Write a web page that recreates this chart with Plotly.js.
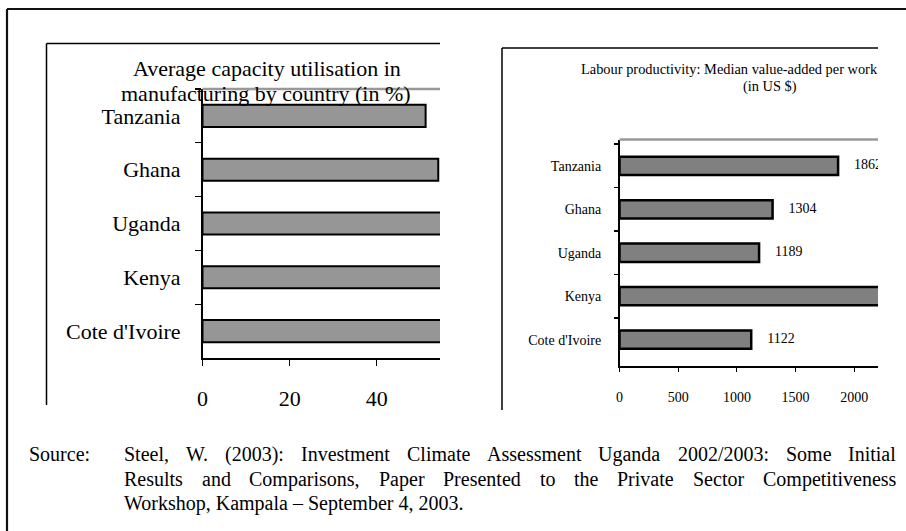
<!DOCTYPE html>
<html><head><meta charset="utf-8">
<script src="https://cdn.plot.ly/plotly-3.0.1.min.js"></script>
<style>html,body{margin:0;padding:0;background:#fff;} #chart{width:906px;height:531px;}</style>
</head><body><div id="chart"></div>
<script>
// ---- data ----
const countries = ["Tanzania", "Ghana", "Uganda", "Kenya", "Cote d'Ivoire"];
const capacityUtilisation = [51.2, 54.1, 58, 60, 65];      // %, last three run past the clipped edge
const labourProductivity = [1862, 1304, 1189, 2300, 1122]; // US $
const productivityLabels = ["1862", "1304", "1189", "", "1122"]; // Kenya's label lies outside the visible area
const capacityTicks = [0, 20, 40];
const productivityTicks = [0, 500, 1000, 1500, 2000];
const titleLeft = ["Average capacity utilisation in", "manufacturing by country (in %)"];
const titleRight = ["Labour productivity: Median value-added per work", "(in US $)"];
const sourceLabel = "Source:";
const sourceLines = [
  "Steel, W. (2003): Investment Climate Assessment Uganda 2002/2003: Some Initial",
  "Results and Comparisons, Paper Presented to the Private Sector Competitiveness",
  "Workshop, Kampala \u2013 September 4, 2003."
];

// ---- helpers ----
const W = 906, H = 531;
const SERIF = 'Liberation Serif, Times New Roman, serif';
const px = x => x / W;
const py = y => 1 - y / H;

const traces = [
  {type: 'bar', orientation: 'h', y: countries, x: capacityUtilisation,
   xaxis: 'x', yaxis: 'y', width: 0.41,
   marker: {color: '#969696', line: {color: '#000', width: 2}},
   hoverinfo: 'skip'},
  {type: 'bar', orientation: 'h', y: countries, x: labourProductivity,
   xaxis: 'x2', yaxis: 'y2', width: 0.42,
   marker: {color: '#808080', line: {color: '#000', width: 2.5}},
   hoverinfo: 'skip'},
  {type: 'scatter', mode: 'markers+text', y: countries, x: labourProductivity,
   xaxis: 'x2', yaxis: 'y2', text: productivityLabels, textposition: 'middle right',
   textfont: {family: SERIF, size: 14, color: '#000'},
   marker: {size: 24, opacity: 0}, cliponaxis: true, hoverinfo: 'skip'}
];

const axisCommon = {showgrid: false, zeroline: false, showline: true, linecolor: '#000',
  linewidth: 1.5, ticks: 'outside', tickcolor: '#000', tickwidth: 1.2, fixedrange: true};

const annotations = [];
function ann(text, x, y, size, xanchor) {
  annotations.push({text: text, xref: 'paper', yref: 'paper', x: px(x), y: py(y),
    xanchor: xanchor || 'center', yanchor: 'middle', showarrow: false, borderpad: 0,
    font: {family: SERIF, size: size, color: '#000'}});
}
ann(titleLeft[0], 267, 68, 22);
ann(titleLeft[1], 266, 93, 22);
ann(titleRight[0], 580, 69, 14.4, 'left');
ann(titleRight[1], 770, 86, 14.4);

// source note, first two lines justified between x=123 and x=895
const SRC_SIZE = 20;
ann(sourceLabel, 28, 454, SRC_SIZE, 'left');
const ctx = document.createElement('canvas').getContext('2d');
ctx.font = SRC_SIZE + 'px "Liberation Serif"';
const srcLeft = 123, srcRight = 895, srcY = [454, 479, 503];
sourceLines.forEach((line, i) => {
  if (i === sourceLines.length - 1) { ann(line, srcLeft, srcY[i], SRC_SIZE, 'left'); return; }
  const words = line.split(' ');
  const widths = words.map(w => ctx.measureText(w).width);
  const total = widths.reduce((a, b) => a + b, 0);
  const gap = (srcRight - srcLeft - total) / (words.length - 1);
  let x = srcLeft;
  words.forEach((w, k) => { ann(w, x, srcY[i], SRC_SIZE, 'left'); x += widths[k] + gap; });
});

function line(x0, y0, x1, y1, color, width) {
  return {type: 'line', xref: 'paper', yref: 'paper', x0: px(x0), y0: py(y0), x1: px(x1), y1: py(y1),
    line: {color: color, width: width}};
}
const shapes = [
  line(7, 9, 906, 9, '#111', 2.2),          // outer frame top
  line(7, 9, 7, 531, '#111', 2.2),          // outer frame left
  line(46.5, 43.5, 440, 43.5, '#000', 1.5), // left chart frame
  line(46.5, 43.5, 46.5, 405, '#000', 1.5),
  line(502, 48, 878, 48, '#000', 1.5),      // right chart frame
  line(502, 48, 502, 410, '#000', 1.5),
  line(202.5, 89, 440, 89, '#999', 2.5),    // plot-area top borders
  line(619.5, 139.5, 878, 139.5, '#999', 2.5)
];

const layout = {
  width: W, height: H, margin: {l: 0, r: 0, t: 0, b: 0},
  paper_bgcolor: '#fff', plot_bgcolor: 'rgba(0,0,0,0)', showlegend: false,
  bargap: 0.5,
  xaxis: Object.assign({}, axisCommon, {domain: [px(202.5), px(440)], anchor: 'y',
    range: [0, 54.5], tickvals: capacityTicks, ticklen: 6, ticklabelstandoff: 14,
    tickfont: {family: SERIF, size: 22, color: '#000'}}),
  yaxis: Object.assign({}, axisCommon, {domain: [py(358), py(89)], anchor: 'x',
    type: 'category', autorange: 'reversed', tickson: 'boundaries', ticklen: 6,
    ticklabelstandoff: 16, tickfont: {family: SERIF, size: 22, color: '#000'}}),
  xaxis2: Object.assign({}, axisCommon, {domain: [px(619.5), px(878)], anchor: 'y2',
    range: [0, 2202], tickvals: productivityTicks, ticklen: 4, ticklabelstandoff: 14,
    tickfont: {family: SERIF, size: 14, color: '#000'}}),
  yaxis2: Object.assign({}, axisCommon, {domain: [py(366), py(139.5)], anchor: 'x2',
    type: 'category', autorange: 'reversed', tickson: 'boundaries', ticklen: 4,
    ticklabelstandoff: 14, tickfont: {family: SERIF, size: 14, color: '#000'}}),
  annotations: annotations,
  shapes: shapes
};

Plotly.newPlot('chart', traces, layout, {displayModeBar: false, staticPlot: true});
</script>
</body></html>
